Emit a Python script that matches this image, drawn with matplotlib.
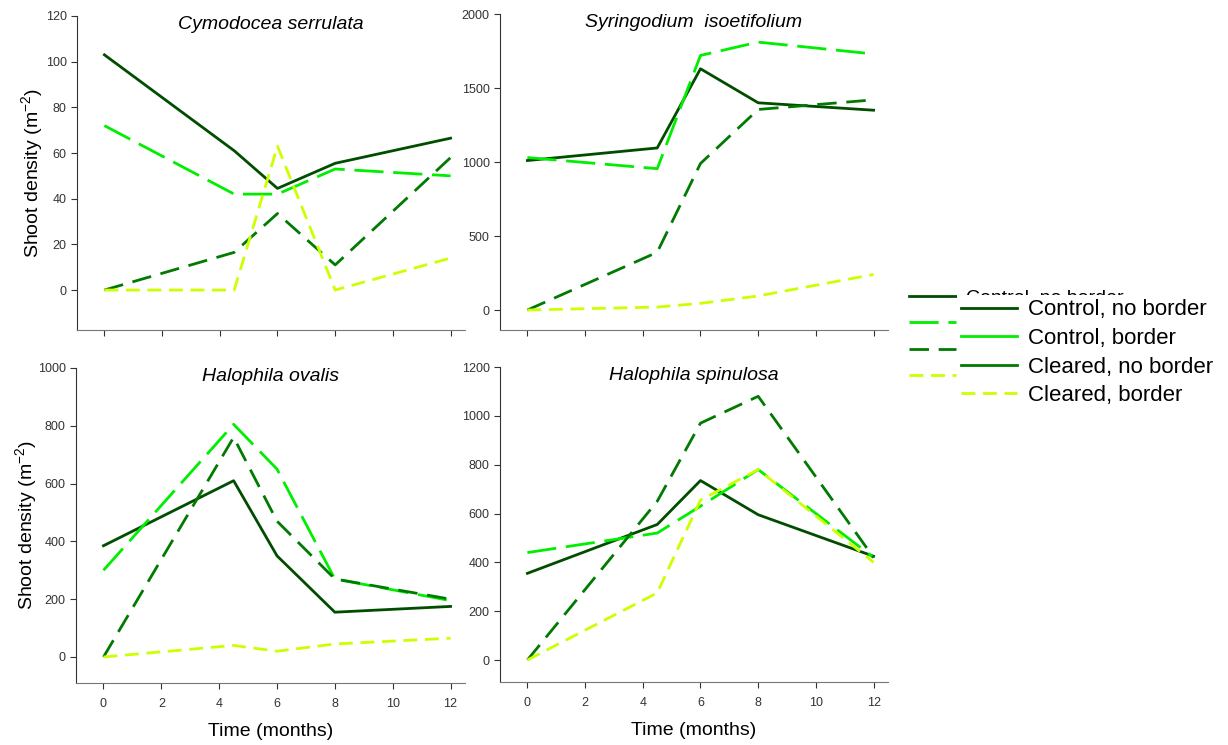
import matplotlib
matplotlib.use("Agg")
import matplotlib.pyplot as plt
from matplotlib.lines import Line2D

plt.rcParams['font.family'] = ['Liberation Sans', 'DejaVu Sans']
plt.rcParams['mathtext.default'] = 'regular'
plt.rcParams['lines.scale_dashes'] = False

# sampling times (months)
time = [0, 4.5, 6, 8, 12]

treatments = ["Control, no border", "Control, border", "Cleared, no border", "Cleared, border"]

# shoot density per species, one list per treatment (same order as treatments)
cymodocea = [
    [103, 61, 44.5, 55.5, 66.5],
    [72, 42, 42, 53, 50],
    [0, 16.5, 33.5, 11, 58],
    [0, 0, 63, 0, 14],
]
syringodium = [
    [1010, 1095, 1630, 1400, 1350],
    [1030, 955, 1720, 1810, 1730],
    [0, 390, 990, 1355, 1420],
    [0, 20, 45, 95, 240],
]
ovalis = [
    [385, 610, 350, 155, 175],
    [300, 805, 650, 270, 195],
    [0, 760, 470, 270, 200],
    [0, 40, 20, 45, 65],
]
spinulosa = [
    [355, 555, 735, 595, 425],
    [440, 520, 630, 780, 420],
    [0, 650, 970, 1080, 420],
    [0, 275, 655, 780, 400],
]

titles = ["Cymodocea serrulata", "Syringodium  isoetifolium", "Halophila ovalis", "Halophila spinulosa"]
ylims = [(-17.5, 120), (-135, 2000), (-90, 1000), (-90, 1200)]
yticks = [range(0, 121, 20), range(0, 2001, 500), range(0, 1001, 200), range(0, 1201, 200)]

colors = ["#004d00", "#00ee00", "#007a00", "#ccff00"]
styles = ["-", (0, (21, 7)), (0, (14, 7)), (0, (10, 5.5))]

fig = plt.figure(figsize=(12.28, 7.45), dpi=100)
W, H = 1228, 745

# axes boxes in pixels: left, top, right, bottom
boxes = [(77, 16, 465, 330), (500, 14, 888, 330), (76, 368, 465, 683), (500, 367, 888, 682)]
data = [cymodocea, syringodium, ovalis, spinulosa]
ylab_x = [-0.082, None, -0.095, None]

axes = []
for i, (l, t, r, b) in enumerate(boxes):
    ax = fig.add_axes([l / W, 1 - b / H, (r - l) / W, (b - t) / H])
    for j in range(4):
        ax.plot(time, data[i][j], color=colors[j], linestyle=styles[j], lw=2, label=treatments[j])
    ax.set_xlim(-0.95, 12.5)
    ax.set_ylim(*ylims[i])
    ax.set_yticks(list(yticks[i]))
    ax.set_xticks(range(0, 13, 2))
    ax.spines['top'].set_visible(False)
    ax.spines['right'].set_visible(False)
    ax.spines['left'].set_color('#333333')
    ax.spines['bottom'].set_color('#777777')
    ax.tick_params(labelsize=9, colors='#333333', length=4)
    ax.tick_params(axis='x', pad=7)
    ax.text(0.5, 1.0, titles[i], transform=ax.transAxes, ha='center', va='top',
            fontsize=14, style='italic')
    if i < 2:
        ax.tick_params(labelbottom=False)
    else:
        ax.set_xlabel("Time (months)", fontsize=14, labelpad=9)
    if i % 2 == 0:
        ax.set_ylabel(r"Shoot density (m$^{-2}$)", fontsize=14)
        ax.yaxis.set_label_coords(ylab_x[i], 0.5)
    axes.append(ax)

# legend drawn twice, the second one covering most of the first
handles = axes[0].get_lines()
leg1 = fig.legend(handles, treatments, loc='upper left', bbox_to_anchor=(909 / W, 1 - 289 / H),
                  frameon=False, fontsize=14, handlelength=2.4, handletextpad=0.55,
                  labelspacing=0.45, borderpad=0, borderaxespad=0)

proxy = [
    Line2D([], [], color=colors[0], lw=2),
    Line2D([], [], color=colors[1], lw=2),
    Line2D([], [], color=colors[2], lw=2),
    Line2D([], [], color=colors[3], lw=2, linestyle=(0, (10, 5.5))),
]
leg2 = fig.legend(proxy, treatments, loc='upper left', bbox_to_anchor=(957 / W, 1 - 295 / H),
                  frameon=True, facecolor='white', edgecolor='none', framealpha=1, fancybox=False,
                  fontsize=16, handlelength=2.5, handletextpad=0.5, labelspacing=0.34,
                  borderpad=0.2, borderaxespad=0)

fig.savefig("out.png", dpi=100)
